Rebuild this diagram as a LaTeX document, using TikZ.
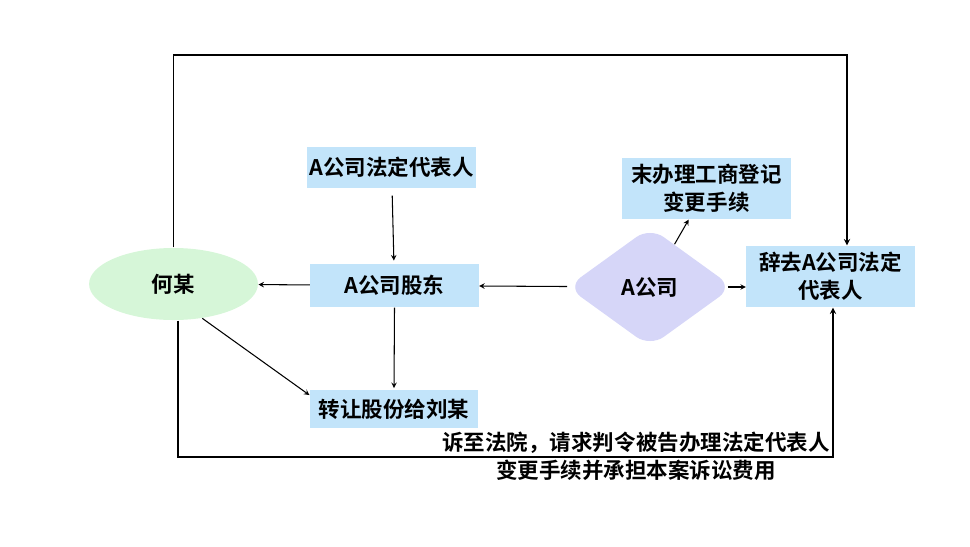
\documentclass[tikz,border=0pt]{standalone}
\usepackage{fontspec}
\usepackage{tikz}
\usetikzlibrary{shapes.geometric}
\newfontfamily\cjkbold{Noto Sans CJK SC Bold}
\definecolor{boxblue}{RGB}{194,228,250}
\definecolor{ovalgreen}{RGB}{214,246,216}
\definecolor{diamlav}{RGB}{214,214,248}

\begin{document}
\begin{tikzpicture}[
        x=0.025cm,y=-0.025cm,
        every node/.style={font=\cjkbold\fontsize{15.3}{19.9}\selectfont,inner sep=0pt},
        infobox/.style={rectangle,fill=boxblue,minimum width=4.2cm,align=center},
        ->,>=stealth,line width=0.75pt
    ]
        \useasboundingbox (0,0) rectangle (970,546);

        \node[infobox,minimum height=1.03cm] (rep) at (391.5,167.5) {A公司法定代表人};
        \node[infobox,minimum height=1.08cm] (holder) at (394.5,285.5) {A公司股东};
        \node[infobox,minimum height=0.95cm] (transfer) at (394,409) {转让股份给刘某};
        \node[infobox,minimum height=1.53cm] (unreg) at (706.5,188.5) {末办理工商登记\\变更手续};
        \node[infobox,minimum height=1.53cm] (resign) at (830.5,276.5) {辞去A公司法定\\代表人};
        \node[ellipse,fill=ovalgreen,minimum width=4.22cm,minimum height=1.8cm] (he) at (173.5,284) {何某};
        \node[diamond,fill=diamlav,rounded corners=12pt,minimum width=4.15cm,minimum height=3cm] (comp) at (650,287) {A公司};

        \coordinate (topR) at (847,55);
        \coordinate (botL) at (178,457);
        \coordinate (botR) at (833,457);

        \draw[shorten <=5pt,shorten >=2pt] (rep) -- (holder);
        \draw (holder) -- (he);
        \draw (comp) -- (holder);
        \draw (comp) -- (unreg);
        \draw ([xshift=-4pt]comp.east) -- (comp.east -| resign.west);
        \draw (he.-50) -- ([yshift=-4pt]transfer.north west);
        \draw[shorten >=1pt] (holder.south) -- (transfer.north);
        \draw[line width=1pt] (he.north) |- (topR) -- (topR |- resign.north);
        \draw[line width=1pt] (he.south -| botL) -- (botL) -- (botR) -- (botR |- resign.south);
        \node[align=center] (suit) at (636,456) {诉至法院，请求判令被告办理法定代表人\\变更手续并承担本案诉讼费用};
    \end{tikzpicture}
\end{document}
